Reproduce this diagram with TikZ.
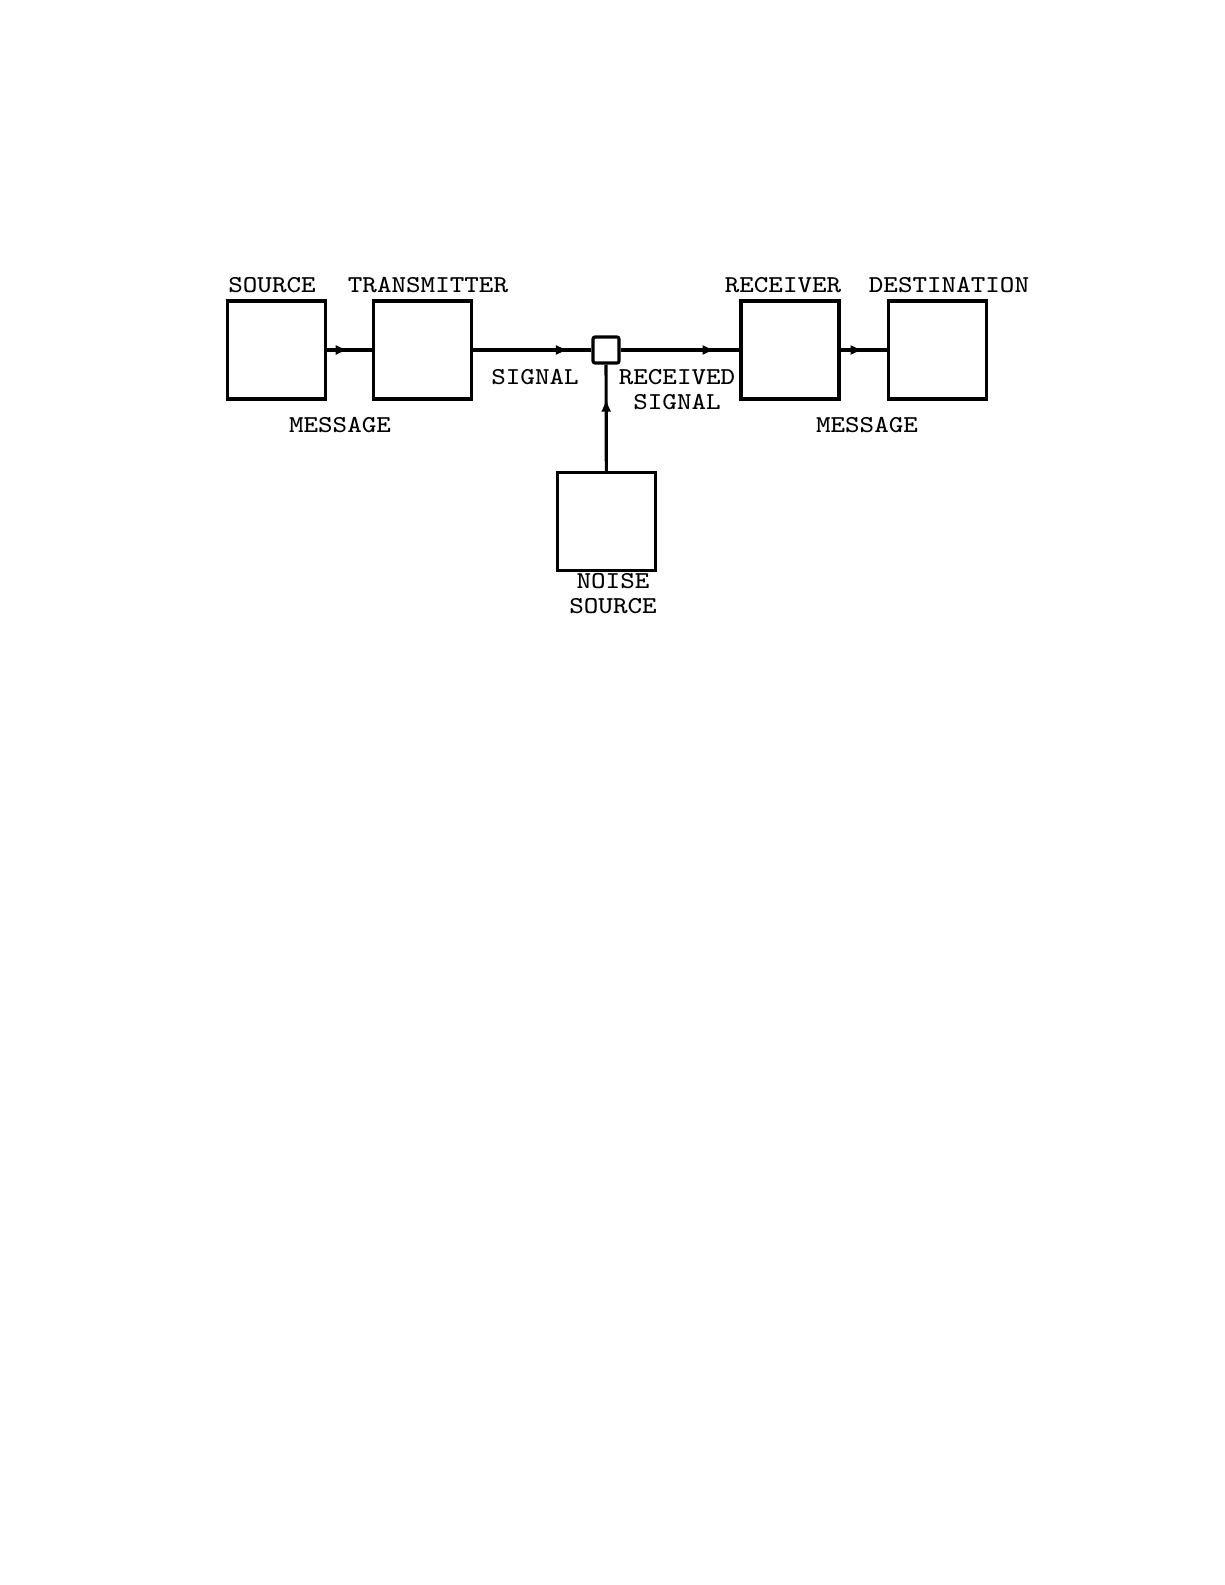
\documentclass[tikz,border=0pt]{standalone}
\usepackage{fontspec}
\setmonofont[FakeStretch=1.13]{Latin Modern Mono}
\usetikzlibrary{arrows.meta,positioning,decorations.markings}
\tikzstyle{block} = [draw, line width=0.9pt, minimum size=0.98cm, inner sep=0pt]
\tikzstyle{junction} = [draw, line width=0.9pt, minimum size=0.26cm, inner sep=0pt, rounded corners=0.6pt]
\tikzstyle{tag} = [font=\ttfamily\fontsize{6.9}{7.1}\selectfont, inner sep=0pt, align=center]
\tikzset{link/.style={line width=0.9pt, postaction={decorate},
  decoration={markings, mark=at position #1 with {\arrow{Latex[length=1.3mm,width=1mm]}}}}}

\begin{document}
\begin{tikzpicture}[x=0.01cm, y=-0.01cm]
\useasboundingbox (0,0) rectangle (1225,1585);
% blocks of the channel
\node[block] (src) at (276.5,350) {};
\node[block, right=0.45cm of src] (tx) {};
\node[junction] (mix) at (606,350) {};
\node[block] (rx) at (790,350) {};
\node[block, right=0.46cm of rx] (dst) {};
\node[block] (noise) at (606.5,521.5) {};
% names
\node[tag] (tsrc) at (272,285) {SOURCE};
\node[tag] (ttx) at (428,285) {TRANSMITTER};
\node[tag] (trx) at (783,285) {RECEIVER};
\node[tag] (tdst) at (949,285) {DESTINATION};
\node[tag] (tnoise) at (613,594) {NOISE\\SOURCE};
% what flows between them
\node[tag] (tsig) at (535,377) {SIGNAL};
\node[tag] (trsig) at (677,390) {RECEIVED\\SIGNAL};
\node[tag] (tmsg1) at (340,425) {MESSAGE};
\node[tag] (tmsg2) at (867,425) {MESSAGE};
% connectors
\draw[link=0.48] (src) -- (tx);
\draw[link=0.81] (tx) -- (mix);
\draw[link=0.8] (mix) -- (rx);
\draw[link=0.5] (rx) -- (dst);
\draw[link=0.68] (noise) -- (mix);
\end{tikzpicture}
\end{document}
